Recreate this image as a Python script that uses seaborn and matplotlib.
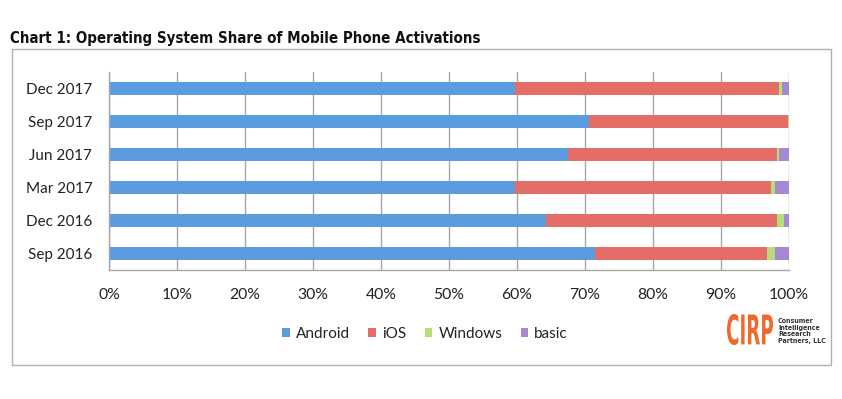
import matplotlib
matplotlib.use("Agg")
import matplotlib.pyplot as plt
import seaborn as sns
import pandas as pd
from matplotlib.textpath import TextPath
from matplotlib.patches import PathPatch, Rectangle
from matplotlib.font_manager import FontProperties
from matplotlib.transforms import Affine2D, IdentityTransform
from matplotlib.ticker import MultipleLocator, PercentFormatter

# Values (percent of activations)
quarters = ["Dec 2017", "Sep 2017", "Jun 2017", "Mar 2017", "Dec 2016", "Sep 2016"]
android = [59.7, 70.6, 67.5, 59.7, 64.3, 71.5]
ios = [38.9, 29.3, 30.7, 37.6, 34.0, 25.3]
windows = [0.3, 0.1, 0.4, 0.6, 0.9, 1.1]
basic = [1.1, 0.0, 1.4, 2.1, 0.8, 2.1]

series = ["Android", "iOS", "Windows", "basic"]
colors = {"Android": "#5B9BDF", "iOS": "#E56D68", "Windows": "#B6DD78", "basic": "#A688D2"}

df = pd.DataFrame({"quarter": quarters, "Android": android, "iOS": ios,
                   "Windows": windows, "basic": basic})
# cumulative ends so the stacks can be drawn back to front
cum = df[series].cumsum(axis=1)

sns.set_style("white")
plt.rcParams["font.family"] = ["Lato", "DejaVu Sans"]

fig = plt.figure(figsize=(8.42, 3.99), dpi=100)
ax = fig.add_axes([109 / 842, 1 - 270 / 399, 680 / 842, 198 / 399])

for s in reversed(series):
    sns.barplot(x=cum[s], y=df["quarter"], order=quarters, orient="h",
                color=colors[s], label=s, width=0.4, ax=ax, linewidth=0,
                saturation=1)

ax.set_xlim(0, 100)
ax.set_ylim(5.5, -0.5)
ax.set_xlabel("")
ax.set_ylabel("")

grid_c = "#A6A6A6"
ax.xaxis.set_major_locator(MultipleLocator(10))
ax.xaxis.set_major_formatter(PercentFormatter(decimals=0))
ax.grid(axis="x", color=grid_c, linewidth=1)
ax.set_axisbelow(True)
for side in ["top", "right"]:
    ax.spines[side].set_visible(False)
for side in ["left", "bottom"]:
    ax.spines[side].set_color(grid_c)
    ax.spines[side].set_linewidth(1)

ax.tick_params(axis="x", length=4, color=grid_c, labelsize=11.3, pad=9, labelcolor="#222222")
ax.tick_params(axis="y", length=0, labelsize=11, pad=12, labelcolor="#222222")
ax.set_yticks(range(len(quarters)), quarters)
ax.set_yticks([i - 0.5 for i in range(len(quarters) + 1)], minor=True)
ax.tick_params(axis="y", which="minor", length=5, color=grid_c, width=1)

handles, labels = ax.get_legend_handles_labels()
if ax.get_legend() is not None:
    ax.get_legend().remove()
lookup = dict(zip(labels, handles))
fig.legend([lookup[s] for s in series], series, loc="center", ncol=4,
           bbox_to_anchor=(425 / 842, 1 - 334 / 399), frameon=False,
           fontsize=11, handlelength=0.5, handleheight=0.5, handletextpad=0.4,
           columnspacing=1.2, labelcolor="#222222")

fig.text(10 / 842, 1 - 38 / 399,
         "Chart 1: Operating System Share of Mobile Phone Activations",
         family="DejaVu Sans", stretch="condensed", weight="bold",
         fontsize=10.8, va="center", ha="left", color="#111111")

# outer frame around the chart
fig.patches.append(Rectangle((12 / 842, 1 - 365 / 399), 819 / 842, 316 / 399,
                             transform=fig.transFigure, fill=False,
                             edgecolor="#B0B0B0", linewidth=1))

# CIRP logo, squeezed into its box in pixel space
fp = FontProperties(family="DejaVu Sans", weight="bold")
tp = TextPath((0, 0), "CIRP", size=10, prop=fp)
bb = tp.get_extents()
x0, y0, w, h = 727, 399 - 345, 46, 31
tr = Affine2D().translate(-bb.x0, -bb.y0).scale(w / bb.width, h / bb.height).translate(x0, y0)
fig.patches.append(PathPatch(tr.transform_path(tp), transform=IdentityTransform(),
                             facecolor="#EE6A2C", edgecolor="none"))
fig.text(778 / 842, 1 - 331 / 399, "Consumer\nIntelligence\nResearch\nPartners, LLC",
         family="DejaVu Sans", stretch="condensed", weight="bold",
         fontsize=5, va="center", ha="left", linespacing=1.15, color="#333333")

fig.savefig("out.png", dpi=100)
